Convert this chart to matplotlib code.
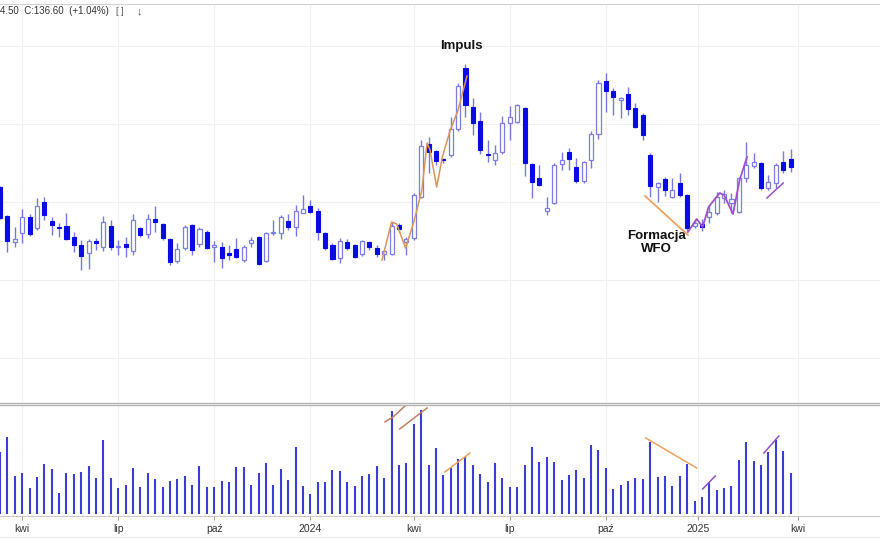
import matplotlib
matplotlib.use('Agg')
import matplotlib.pyplot as plt

plt.rcParams['font.family'] = ['Liberation Sans', 'DejaVu Sans']

# weekly candles, x = week index
opens = [126.5, 112, 99, 103.5, 111.5, 106, 119, 109.5, 106.5, 107,
         101.5, 97.5, 93.5, 99.5, 96.5, 107, 96.5, 98, 94.5, 106,
         103, 110.5, 108, 100.5, 89.5, 96, 107.5, 98, 104, 96.5,
         96.5, 93.5, 95.5, 90, 98.5, 101.5, 89.5, 103.5, 103.5, 109.5,
         106.5, 113.5, 117, 114.5, 103.5, 97.5, 91, 99, 97.5, 93,
         99, 96, 93, 93, 107.5, 99, 101, 121.5, 148, 144.5,
         140.5, 142.5, 155.5, 186, 166.5, 159.5, 143, 140, 144, 158.5,
         159, 166, 138, 131, 114.5, 118.5, 138, 144, 136.5, 129.5,
         140, 153, 179.5, 174.5, 170, 173, 166, 162.5, 142.5, 126.5,
         130.5, 121.5, 128.5, 122.5, 107, 108, 111.5, 113.5, 121, 118.5,
         114, 131, 137, 138.5, 126, 128.5, 139, 140.5]
highs = [127, 112.5, 106.5, 115.5, 113, 121, 121.5, 111.5, 108.5, 113.5,
         104, 100, 100.5, 101, 112, 110, 100, 101.5, 113, 106.5,
         113, 117, 108.5, 101, 98.5, 107.5, 108, 106.5, 105, 99.5,
         99, 97.5, 101, 97.5, 101.5, 102, 104, 110, 112.5, 113,
         117.5, 122.5, 120, 116, 104, 98.5, 101, 100.5, 98, 100,
         99.5, 97.5, 95, 109, 108.5, 101.5, 123.5, 150, 151.5, 145,
         141, 161.5, 178.5, 188, 171, 164, 150, 147.5, 162, 167,
         168, 166.5, 138.5, 137.5, 121.5, 138.5, 144, 146, 141, 139.5,
         154.5, 180, 183.5, 176, 171.5, 176.5, 168.5, 163.5, 143.5, 129,
         131.5, 131, 133.5, 123, 110.5, 110.5, 117.5, 124, 125, 123.5,
         131.5, 149, 143.5, 139, 132.5, 138.5, 144.5, 145.5]
lows = [110.5, 94, 96.5, 98.5, 102, 105, 110, 102.5, 101.5, 100,
        94, 85, 85.5, 95, 94.5, 95, 92.5, 91.5, 92.5, 101.5,
        101, 104, 100, 87.5, 88.5, 95, 92.5, 96.5, 95.5, 89,
        86, 90, 91, 89, 96.5, 87.5, 89, 102.5, 100.5, 105,
        102, 113.5, 113.5, 100, 95, 90, 88.5, 95, 91, 92,
        95, 91.5, 90, 92.5, 104, 92.5, 100, 121, 133.5, 137.5,
        138.5, 141.5, 154.5, 161.5, 152.5, 143, 139, 137.5, 143, 150,
        158.5, 132, 121, 127, 112.5, 118, 135, 135, 128.5, 128.5,
        136, 150.5, 164, 162.5, 161, 162.5, 156, 150, 121.5, 119,
        122, 121, 121.5, 104.5, 106, 104.5, 108.5, 112.5, 118.5, 113.5,
        113.5, 129, 136, 125, 125, 126, 133.5, 134]
closes = [111, 99.5, 100.5, 111.5, 103, 117, 112.5, 107.5, 106, 100.5,
          97.5, 92, 99.5, 98.5, 109, 96.5, 97, 96.5, 110, 102.5,
          110.5, 109, 101, 89, 95.5, 106.5, 95, 105.5, 96, 97.5,
          91, 92.5, 91.5, 96.5, 100, 88, 103.5, 104, 111.5, 106.5,
          114.5, 115.5, 114, 104, 96, 90.5, 99.5, 96, 91.5, 99.5,
          96.5, 93, 94.5, 107, 105.5, 100.5, 122.5, 147, 144, 139.5,
          140, 155.5, 177, 167.5, 158.5, 145, 142.5, 143.5, 158.5, 161.5,
          167.5, 138.5, 129, 127.5, 116, 137.5, 140, 140.5, 129.5, 139,
          153, 178.5, 174.5, 171.5, 171, 165.5, 156.5, 152.5, 127, 128.5,
          125, 125, 122.5, 106, 108.5, 106.5, 114, 121.5, 123, 120.5,
          131, 137.5, 139, 126, 129, 137.5, 135.2, 136.6]
volumes = [62, 77, 38, 41, 26, 37, 50, 45, 21, 41,
           40, 42, 48, 36, 74, 36, 26, 29, 46, 27,
           41, 35, 27, 33, 35, 38, 29, 48, 27, 27,
           33, 32, 47, 47, 29, 41, 51, 29, 45, 34,
           67, 28, 20, 32, 32, 44, 43, 32, 28, 38,
           40, 48, 36, 103, 49, 51, 90, 104, 49, 66,
           39, 46, 55, 57, 49, 40, 32, 51, 36, 27,
           27, 49, 67, 52, 57, 52, 34, 39, 44, 36,
           69, 64, 46, 25, 29, 33, 36, 35, 72, 37,
           38, 28, 38, 50, 13, 17, 32, 24, 26, 28,
           54, 72, 53, 49, 62, 74, 63, 41]

tick_pos = [3, 16, 29, 42, 56, 69, 82, 94.5, 108]
tick_labels = ['kwi', 'lip', 'paź', '2024', 'kwi', 'lip', 'paź', '2025', 'kwi']

# drawn annotations (week index, price) / (week index, volume)
impuls_x = [51.7, 53.0, 53.7, 54.9, 56.0, 57.1, 57.8, 58.2, 59.1, 59.9, 60.9, 62.0, 63.2]
impuls_y = [90, 109, 108, 96, 109, 125, 148.5, 145, 126.5, 142, 154.5, 165, 182]
wfo_x = [87.3, 93.1]
wfo_y = [122, 102.5]
rise_x = [93.1, 94.3, 95.1, 95.9, 97.4, 98.0, 99.2, 100.1, 101.1]
rise_y = [104, 110.5, 106.5, 116.5, 123.5, 122.5, 113, 130, 141.5]
small_x = [103.8, 106.0]
small_y = [121, 128.5]
vol_lines = [([52.1, 53.2, 55.1], [92, 97, 110], '#c08060'),
             ([54.1, 57.8], [85, 106], '#c08060'),
             ([60.2, 63.6], [42, 61], '#f0a060'),
             ([87.4, 94.3], [76, 46], '#f0a060'),
             ([95.1, 96.8], [25, 38], '#9050d0'),
             ([103.4, 105.4], [61, 78], '#9050d0')]

fig = plt.figure(figsize=(8.8, 5.4), dpi=100)
ax = fig.add_axes([0, 138 / 540, 1, 398 / 540])
axv = fig.add_axes([0, 24 / 540, 1, 110 / 540], sharex=ax)

xs = list(range(len(opens)))
wick_col = '#7878e4'
ax.vlines(xs, lows, highs, color=wick_col, linewidth=1, zorder=2)
for i in xs:
    o, c = opens[i], closes[i]
    h = max(abs(c - o), 0.4)
    b = min(o, c)
    if c < o:
        ax.bar(i, h, 0.55, bottom=b, color='#0a0ae6', edgecolor='#0a0ae6', linewidth=0.8, zorder=3)
    else:
        ax.bar(i, h, 0.55, bottom=b, color='white', edgecolor='#7c7ce6', linewidth=0.9, zorder=3)

ax.plot(impuls_x, impuls_y, color='#d8955a', linewidth=1.1, zorder=4)
ax.plot(wfo_x, wfo_y, color='#f0a060', linewidth=1.3, zorder=4)
ax.plot(rise_x, rise_y, color='#a050c8', linewidth=1.3, zorder=4)
ax.plot(small_x, small_y, color='#a050c8', linewidth=1.1, zorder=4)

ax.text(62.5, 197, 'Impuls', ha='center', va='center', fontsize=9.5, fontweight='bold', color='#111111')
ax.text(88.9, 102, 'Formacja', ha='center', va='center', fontsize=9.5, fontweight='bold', color='#111111')
ax.text(88.9, 95.5, 'WFO', ha='center', va='center', fontsize=9.5, fontweight='bold', color='#111111')

ax.set_xlim(0, 119.1)
ax.set_ylim(19, 218)
ax.set_yticks([41, 80, 119, 158, 197])
ax.grid(True, color='#f0f0f0', linewidth=0.8)
ax.set_axisbelow(True)
ax.tick_params(left=False, labelleft=False, bottom=False, labelbottom=False)
for s in ['left', 'right', 'bottom']:
    ax.spines[s].set_visible(False)
ax.spines['top'].set_color('#d0d0d0')

axv.vlines(xs, 0, volumes, color='#3c3cd8', linewidth=1.5)
for lx, ly, col in vol_lines:
    axv.plot(lx, ly, color=col, linewidth=1.1, clip_on=True)
axv.set_ylim(-2, 108)
axv.set_xticks(tick_pos)
axv.set_xticklabels(tick_labels, fontsize=7.5, color='#333333')
axv.tick_params(axis='x', length=3, color='#999999', pad=3)
axv.tick_params(left=False, labelleft=False)
axv.set_yticks([])
axv.grid(True, axis='x', color='#f0f0f0', linewidth=0.8)
axv.set_axisbelow(True)
for s in ['left', 'right', 'top']:
    axv.spines[s].set_visible(False)
axv.spines['bottom'].set_color('#c8c8c8')

# panel separator
fig.add_artist(plt.Line2D([0, 1], [1 - 402.5 / 540] * 2, color='#b4b4b4', linewidth=1))
fig.add_artist(plt.Line2D([0, 1], [1 - 405 / 540] * 2, color='#b4b4b4', linewidth=1))
fig.add_artist(plt.Line2D([0, 1], [1 - 537 / 540] * 2, color='#eeeeee', linewidth=1))

fig.text(0, 1 - 11 / 540, '4.50  C:136.60  (+1.04%)', fontsize=7, color='#333333', va='center')
fig.text(116 / 880, 1 - 11 / 540, '[ ]', fontsize=6.5, color='#555555', va='center')
fig.text(137 / 880, 1 - 11 / 540, '↓', fontsize=8, color='#555555', va='center')

fig.savefig('out.png', dpi=100)
